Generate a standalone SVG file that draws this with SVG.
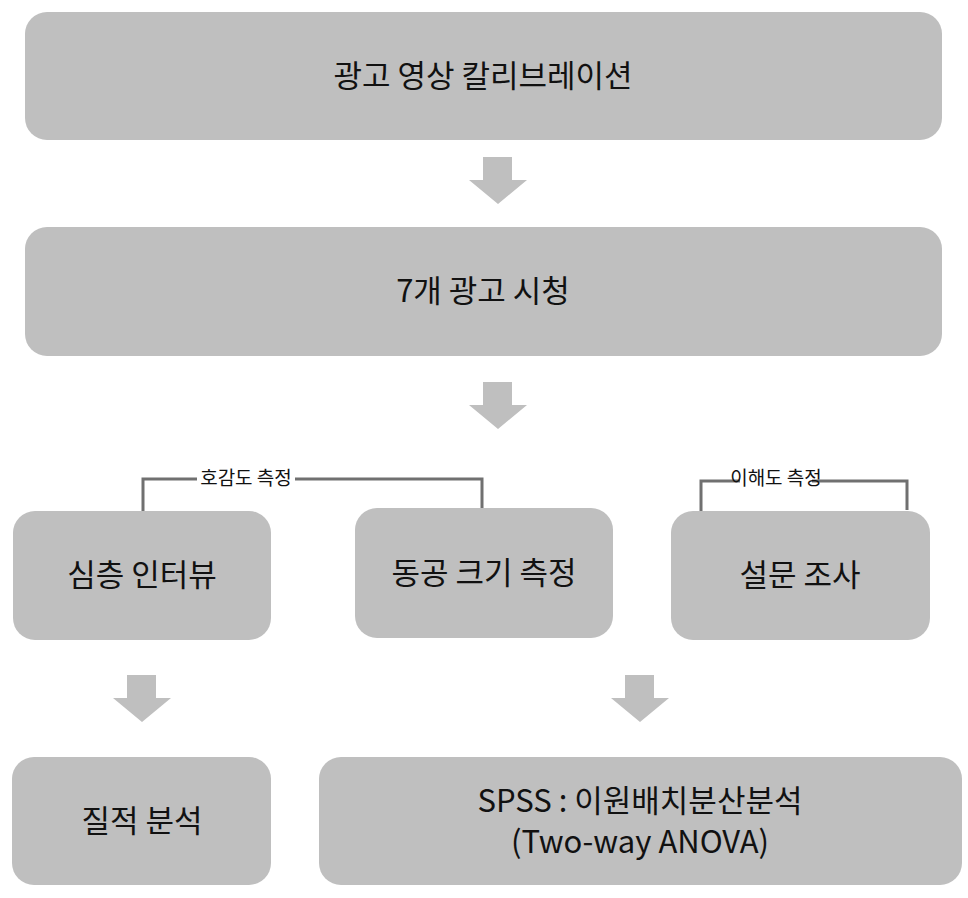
<svg xmlns="http://www.w3.org/2000/svg" width="968" height="898" viewBox="0 0 968 898">
<style>
.b{fill:#bfbfbf}
.t{font-family:"Noto Sans CJK KR","Noto Sans",sans-serif;font-size:31px;fill:#111;text-anchor:middle}
.s{font-family:"Noto Sans CJK KR","Noto Sans",sans-serif;font-size:19px;fill:#111;text-anchor:middle}
.a{fill:#bfbfbf}
.l{fill:none;stroke:#707070;stroke-width:3}
</style>
<defs><path id="arr" d="M-15,0H14V23H29L0,47L-29,23H-15Z"/></defs>
<rect width="968" height="898" fill="#fff"/>
<g id="n1"><rect class="b" x="25" y="12" width="917" height="128" rx="22"/><text class="t" x="483" y="87">광고 영상 칼리브레이션</text></g>
<g id="n2"><rect class="b" x="25" y="227" width="917" height="129" rx="22"/><text class="t" x="483" y="302">7개 광고 시청</text></g>
<g id="n3"><rect class="b" x="13" y="511" width="258" height="129" rx="22"/><text class="t" x="142" y="586">심층 인터뷰</text></g>
<g id="n4"><rect class="b" x="355" y="508" width="258" height="130" rx="22"/><text class="t" x="484" y="584">동공 크기 측정</text></g>
<g id="n5"><rect class="b" x="671" y="511" width="259" height="129" rx="22"/><text class="t" x="800" y="586">설문 조사</text></g>
<g id="n6"><rect class="b" x="12" y="757" width="259" height="128" rx="22"/><text class="t" x="142" y="832">질적 분석</text></g>
<g id="n7"><rect class="b" x="319" y="757" width="643" height="128" rx="22"/><text class="t" x="640" y="812">SPSS : 이원배치분산분석</text><text class="t" x="640" y="853">(Two-way ANOVA)</text></g>
<g id="connectors">
<use href="#arr" class="a" x="498" y="157"/>
<use href="#arr" class="a" x="498" y="382"/>
<use href="#arr" class="a" x="142" y="675"/>
<use href="#arr" class="a" x="640" y="675"/>
<path class="l" d="M143,511V479H197M295,479H482V508"/>
<path class="l" d="M701,511V481H740M812,481H907V510"/>
<text class="s" x="246" y="485">호감도 측정</text>
<text class="s" x="776" y="485">이해도 측정</text>
</g>
</svg>
